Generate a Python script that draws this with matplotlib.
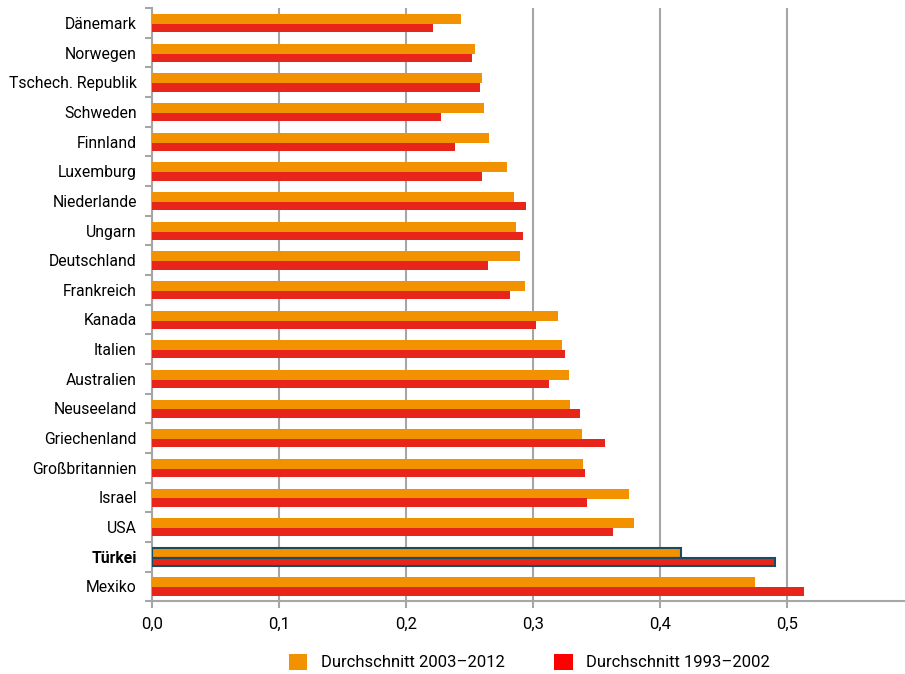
import matplotlib
matplotlib.use("Agg")
import matplotlib.pyplot as plt
import numpy as np
from matplotlib.patches import Patch
from matplotlib import font_manager

countries = ["Dänemark", "Norwegen", "Tschech. Republik", "Schweden", "Finnland",
             "Luxemburg", "Niederlande", "Ungarn", "Deutschland", "Frankreich",
             "Kanada", "Italien", "Australien", "Neuseeland", "Griechenland",
             "Großbritannien", "Israel", "USA", "Türkei", "Mexiko"]
avg_2003_2012 = [0.2435, 0.2545, 0.2598, 0.2613, 0.2656, 0.2797, 0.2850, 0.2868,
                 0.2900, 0.2940, 0.3194, 0.3228, 0.3280, 0.3289, 0.3383, 0.3394,
                 0.3759, 0.3796, 0.4166, 0.4752]
avg_1993_2002 = [0.2214, 0.2522, 0.2585, 0.2272, 0.2388, 0.2600, 0.2947, 0.2923,
                 0.2648, 0.2820, 0.3023, 0.3252, 0.3130, 0.3373, 0.3567, 0.3412,
                 0.3428, 0.3630, 0.4907, 0.5135]
x_ticks = [0.0, 0.1, 0.2, 0.3, 0.4, 0.5]
x_tick_labels = ["0,0", "0,1", "0,2", "0,3", "0,4", "0,5"]
legend_labels = ["Durchschnitt 2003–2012", "Durchschnitt 1993–2002"]
highlight = "Türkei"

names = {f.name for f in font_manager.fontManager.ttflist}
fam = "Liberation Sans Narrow" if "Liberation Sans Narrow" in names else "Roboto"
plt.rcParams['font.family'] = [fam, 'DejaVu Sans']

ORANGE = "#F39200"
RED = "#E8251A"
EDGE = "#1B4A63"
GRID = "#A6A6A6"

fig = plt.figure(figsize=(9.05, 6.74), dpi=100)
ax = fig.add_axes([0.168, 0.108, 0.832, 0.88])

y = np.arange(len(countries))
for i, c in enumerate(countries):
    hl = (c == highlight)
    ax.barh(i - 0.13, avg_2003_2012[i], height=0.34, color=ORANGE,
            edgecolor=EDGE if hl else "none", linewidth=1.5 if hl else 0, zorder=3)
    ax.barh(i + 0.175, avg_1993_2002[i], height=0.28, color=RED,
            edgecolor=EDGE if hl else "none", linewidth=1.5 if hl else 0, zorder=3)

ax.set_xlim(0, 0.593)
ax.set_ylim(len(countries) - 0.5, -0.5)
ax.set_xticks(x_ticks)
ax.set_xticklabels(x_tick_labels, fontsize=12)
ax.set_yticks(y)
ax.set_yticklabels(countries, fontsize=11.3)
ax.set_yticks(np.arange(len(countries) + 1) - 0.5, minor=True)
ax.tick_params(axis='y', which='major', length=0, pad=11)
ax.tick_params(axis='y', which='minor', length=5, width=1.5, color=GRID, direction='out')
ax.tick_params(axis='x', which='major', length=5, width=1.5, color=GRID, pad=6)
for lbl in ax.get_yticklabels():
    if lbl.get_text() == highlight:
        lbl.set_fontweight('bold')

ax.grid(axis='x', color=GRID, linewidth=1.5, zorder=0)
ax.set_axisbelow(True)
for s in ["top", "right"]:
    ax.spines[s].set_visible(False)
for s in ["left", "bottom"]:
    ax.spines[s].set_color(GRID)
    ax.spines[s].set_linewidth(1.5)

handles = [Patch(facecolor=ORANGE, edgecolor='none'), Patch(facecolor="#FF0000", edgecolor='none')]
fig.legend(handles, legend_labels, loc='center', bbox_to_anchor=(0.585, 0.018),
           ncol=2, frameon=False, fontsize=12, handlelength=1.1, handleheight=1.1,
           columnspacing=3.0, handletextpad=0.8)

fig.savefig("out.png", dpi=100)
